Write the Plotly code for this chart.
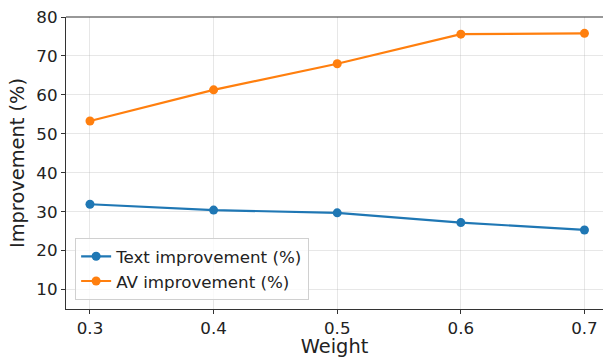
import plotly.graph_objects as go

weights = [0.3, 0.4, 0.5, 0.6, 0.7]
text_improvement = [31.9, 30.4, 29.7, 27.2, 25.3]
av_improvement = [53.3, 61.3, 68.0, 75.6, 75.8]
y_ticks = [10, 20, 30, 40, 50, 60, 70, 80]

FONT = "DejaVu Sans"
grid = "rgba(176,176,176,0.3)"

fig = go.Figure()
fig.add_trace(go.Scatter(x=weights, y=text_improvement, mode="lines+markers",
                         name="Text improvement (%)",
                         line=dict(color="#1f77b4", width=2.2),
                         marker=dict(size=9, color="#1f77b4")))
fig.add_trace(go.Scatter(x=weights, y=av_improvement, mode="lines+markers",
                         name="AV improvement (%)",
                         line=dict(color="#ff7f0e", width=2.2),
                         marker=dict(size=9, color="#ff7f0e")))

# top spine
fig.add_shape(type="line", xref="paper", yref="paper", x0=0, x1=1, y0=1, y1=1,
              line=dict(color="#333333", width=1.2), layer="above")

fig.update_layout(
    width=603, height=358,
    margin=dict(l=66, r=0, t=17, b=49, autoexpand=False),
    plot_bgcolor="white", paper_bgcolor="white",
    font=dict(family=FONT, size=16.7, color="#222222"),
    legend=dict(x=0.017, y=0.031, xanchor="left", yanchor="bottom",
                bgcolor="rgba(255,255,255,0.8)", bordercolor="#d0d0d0",
                borderwidth=1, font=dict(size=16.7, family=FONT),
                tracegroupgap=0),
    xaxis=dict(range=[0.2806, 0.715], tickvals=weights,
               ticktext=[f"{w:.1f}" for w in weights],
               showgrid=True, gridcolor=grid, gridwidth=1,
               showline=True, linecolor="#333333", linewidth=1.2, mirror=False,
               ticks="outside", ticklen=4, tickcolor="#333333",
               zeroline=False, tickfont=dict(size=16.7), automargin=False,
               title=dict(text="Weight", font=dict(size=19.4, family=FONT), standoff=0)),
    yaxis=dict(range=[5.0, 80.0], tickvals=y_ticks,
               showgrid=True, gridcolor=grid, gridwidth=1,
               showline=True, linecolor="#333333", linewidth=1.2, mirror=False,
               ticks="outside", ticklen=4, tickcolor="#333333",
               zeroline=False, tickfont=dict(size=16.7), automargin=False,
               title=dict(text="Improvement (%)", font=dict(size=19.4, family=FONT), standoff=6)),
)

fig.write_html("out.html", config={"displayModeBar": False},
               post_script="document.body.style.margin='0';"
                           "document.body.style.overflow='hidden';"
                           "document.documentElement.style.overflow='hidden';")
